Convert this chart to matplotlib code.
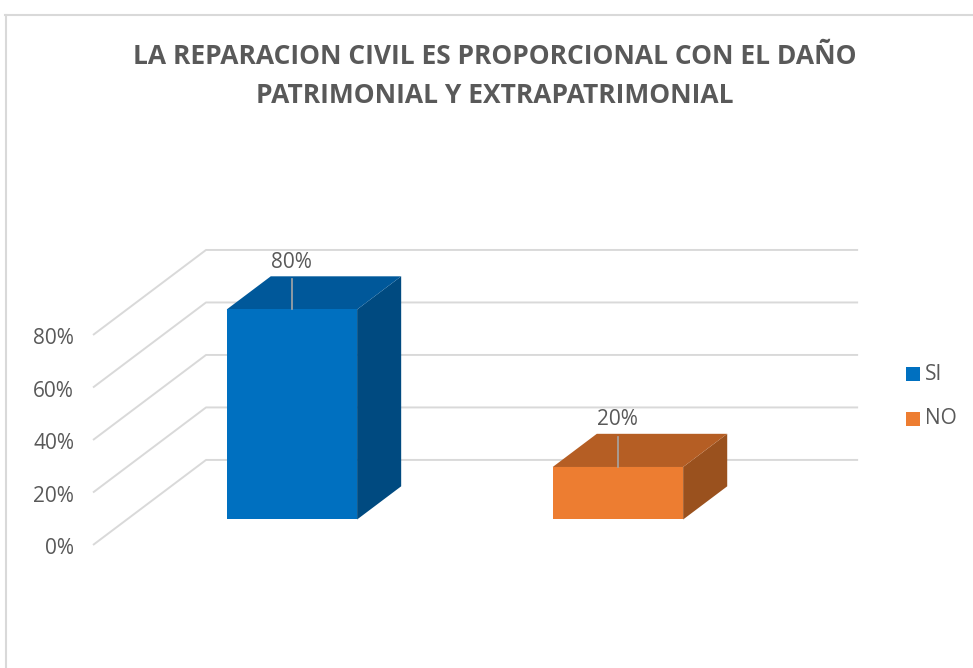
import numpy as np
import matplotlib.pyplot as plt
from matplotlib.patches import Polygon
from matplotlib.lines import Line2D

categories = ['SI', 'NO']
values = [80, 20]
bar_labels = ['80%', '20%']
ticks = [0, 20, 40, 60, 80]
tick_labels = ['0%', '20%', '40%', '60%', '80%']
title = 'LA REPARACION CIVIL ES PROPORCIONAL CON EL DAÑO\nPATRIMONIAL Y EXTRAPATRIMONIAL'

front_colors = ['#0070C0', '#ED7D31']
top_colors = ['#00589A', '#B55E24']
side_colors = ['#004A80', '#9A511E']

# oblique depth vector (category units, percent units) for depth 0 -> 1
DX, DY = 0.3466, 32.4
D0, D1 = 0.30, 0.69     # bar depth range
HALF = 0.2              # half bar width
TXT = '#595959'
FONT = ['Open Sans', 'DejaVu Sans']


def proj(x, v, d):
    return (x + d * DX, v + d * DY)


fig = plt.figure(figsize=(9.73, 6.68), dpi=100)
ax = fig.add_axes([0, 0, 1, 1])
ax.set_xlim(-0.2853, 2.699)
ax.set_ylim(-46.86, 207.62)
ax.axis('off')

# chart border
fig.add_artist(Line2D([5/973, 1], [1 - 14.5/668] * 2, transform=fig.transFigure,
                      color='#D9D9D9', lw=1.5))
fig.add_artist(Line2D([5.5/973] * 2, [0, 1 - 14.5/668], transform=fig.transFigure,
                      color='#D9D9D9', lw=1.5))

# side wall + back wall gridlines
n = len(categories)
for t, lab in zip(ticks, tick_labels):
    p0 = proj(0, t, 0)
    p1 = proj(0, t, 1)
    p2 = proj(n, t, 1)
    ax.plot([p0[0], p1[0], p2[0]], [p0[1], p1[1], p2[1]], color='#D9D9D9',
            lw=1.4, zorder=1, solid_capstyle='butt')
    ax.text(-0.058, t - 1.4, lab, ha='right', va='center', fontsize=15,
            color=TXT, family=FONT)

# 3d bars
for i, v in enumerate(values):
    xc = i + 0.506
    xl, xr = xc - HALF, xc + HALF
    front = [proj(xl, 0, D0), proj(xr, 0, D0), proj(xr, v, D0), proj(xl, v, D0)]
    top = [proj(xl, v, D0), proj(xr, v, D0), proj(xr, v, D1), proj(xl, v, D1)]
    side = [proj(xr, 0, D0), proj(xr, 0, D1), proj(xr, v, D1), proj(xr, v, D0)]
    ax.add_patch(Polygon(side, closed=True, fc=side_colors[i], ec='none', zorder=3))
    ax.add_patch(Polygon(top, closed=True, fc=top_colors[i], ec='none', zorder=3))
    ax.add_patch(Polygon(front, closed=True, fc=front_colors[i], ec='none', zorder=4))

    # data label with leader line
    fx, fy = proj(xc, v, D0)
    ly = v + D1 * DY + 6.0
    ax.text(fx, ly - 0.6, bar_labels[i], ha='center', va='center', fontsize=15,
            color=TXT, family=FONT, zorder=6)
    ax.plot([fx, fx], [ly - 7.2, fy], color='#A6A6A6', lw=1.2, zorder=5)

# legend
for i, c in enumerate(categories):
    y = 1 - (374 + 45 * i) / 668
    fig.patches.append(plt.Rectangle((906/973, y - 6.5/668), 13.5/973, 13.5/668,
                                     transform=fig.transFigure, fc=front_colors[i],
                                     ec='none'))
    fig.text(925/973, y, c, ha='left', va='center', fontsize=15, color=TXT,
             family=FONT)

fig.text(495/973, 1 - 76/668, title, ha='center', va='center', fontsize=19,
         fontweight='bold', color=TXT, family=FONT, linespacing=1.55)

fig.savefig('out.png', dpi=100)
